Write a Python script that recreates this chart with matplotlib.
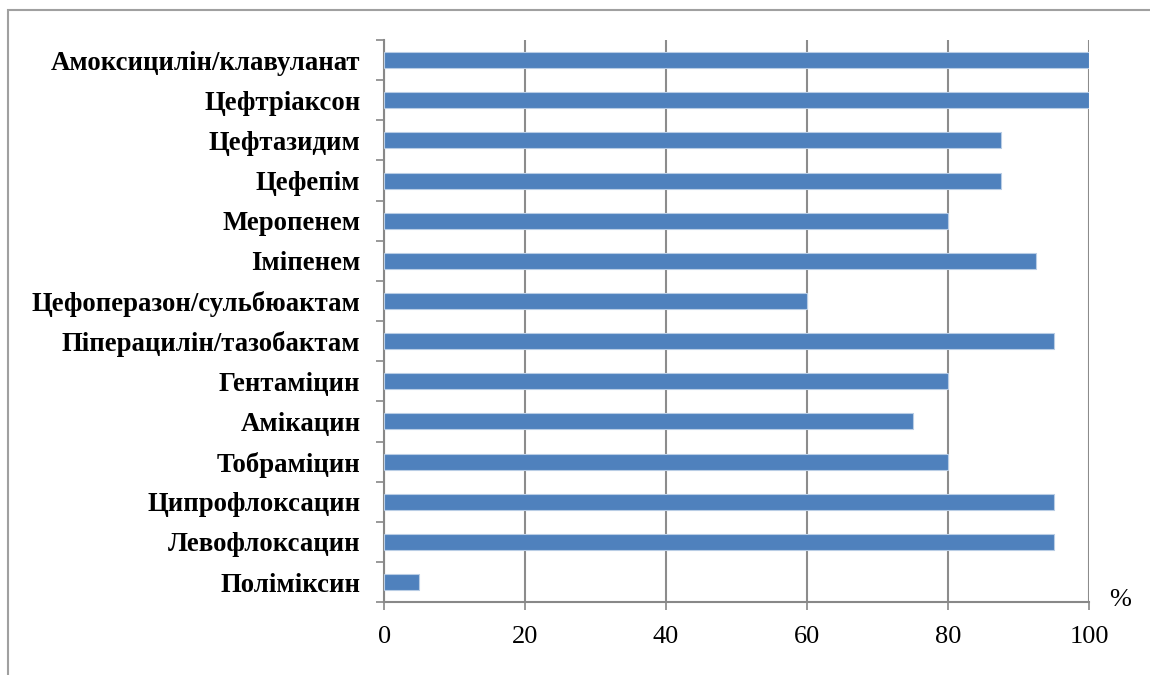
import numpy as np
import matplotlib.pyplot as plt
from matplotlib.patches import Rectangle

drugs = ['Амоксицилін/клавуланат', 'Цефтріаксон', 'Цефтазидим', 'Цефепім',
         'Меропенем', 'Іміпенем', 'Цефоперазон/сульбюактам',
         'Піперацилін/тазобактам', 'Гентаміцин', 'Амікацин', 'Тобраміцин',
         'Ципрофлоксацин', 'Левофлоксацин', 'Поліміксин']
resistance = [100, 100, 87.5, 87.5, 80, 92.5, 60, 95, 80, 75, 80, 95, 95, 5]
xticks = [0, 20, 40, 60, 80, 100]

plt.rcParams['font.family'] = ['Liberation Serif', 'DejaVu Serif']

fig = plt.figure(figsize=(11.5, 6.75), dpi=100)
ax = fig.add_axes([0.334, 0.108, 0.613, 0.8327])

# outer frame of the chart area
fig.patches.append(Rectangle((8 / 1150, -0.05), 1.1, 1 - 10 / 675 + 0.05,
                             transform=fig.transFigure, fill=False,
                             edgecolor='#a0a0a0', linewidth=1.5))

y = np.arange(len(drugs))[::-1]
ax.barh(y, resistance, height=0.4, color='#4f81bd',
        edgecolor='#b9cde5', linewidth=0.8, zorder=3)

ax.set_xlim(0, 100)
ax.set_ylim(-0.5, len(drugs) - 0.5)
ax.set_xticks(xticks)
ax.set_xticklabels([str(t) for t in xticks], fontsize=19)
ax.set_yticks(y)
ax.set_yticklabels(drugs, fontsize=19.3, fontweight='bold')
ax.tick_params(axis='y', length=0, pad=17)
ax.set_yticks(np.arange(len(drugs) + 1) - 0.5, minor=True)
ax.tick_params(axis='y', which='minor', length=6, color='#888888', width=1.2)
ax.tick_params(axis='x', length=6, color='#888888', width=1.2, pad=11)

ax.grid(axis='x', color='#8c8c8c', linewidth=1.5, zorder=0)
for s in ['top', 'right']:
    ax.spines[s].set_visible(False)
for s in ['left', 'bottom']:
    ax.spines[s].set_color('#888888')
    ax.spines[s].set_linewidth(1.5)

fig.text(1120 / 1150, 1 - 600 / 675, '%', fontsize=19, ha='center', va='center')

fig.savefig('out.png', dpi=100)
